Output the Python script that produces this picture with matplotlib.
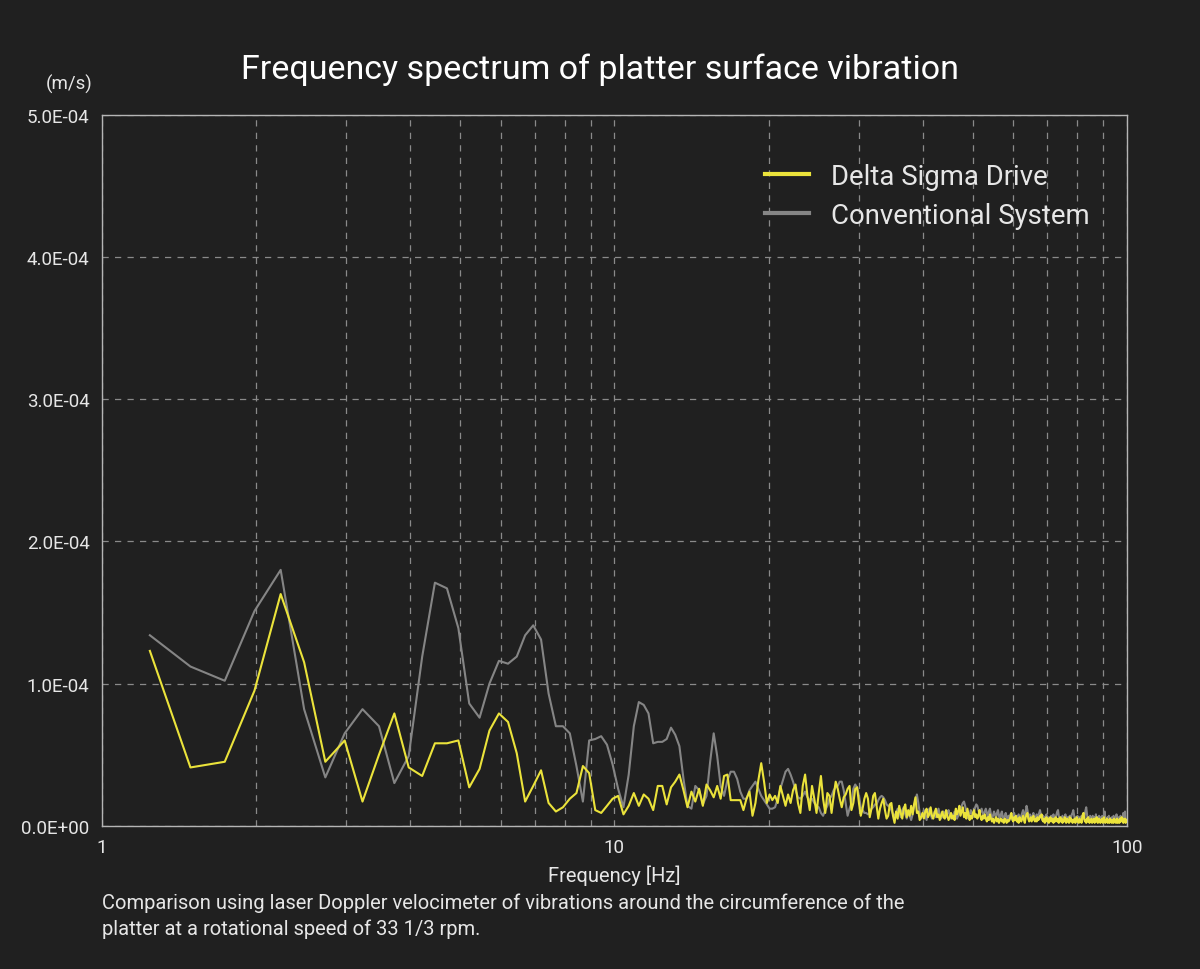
import numpy as np
import matplotlib
matplotlib.use("Agg")
import matplotlib.pyplot as plt
from matplotlib.ticker import FixedLocator, NullFormatter

# spectrum bins: frequency = bin * df, bins 5..403 (about 1.2 - 100 Hz)
df = 0.248
bins = np.arange(5, 404)

# velocity, in units of 1e-6 m/s
delta_sigma = [
    123, 41, 45, 95, 163, 115, 45, 60, 17, 50,
    79, 41, 35, 58, 58, 60, 27, 40, 67, 79,
    73, 51, 17, 28, 39, 16, 10, 13, 19, 23,
    42, 37, 11, 9, 14, 19, 21, 8, 14, 23,
    14, 22, 19, 11, 28, 28, 15, 27, 31, 36,
    25, 13, 24, 17, 26, 14, 29, 25, 20, 28,
    19, 35, 36, 18, 18, 18, 18, 11, 19, 24,
    7, 16, 32, 44, 31, 16, 22, 18, 21, 16,
    28, 21, 14, 22, 16, 25, 29, 16, 9, 28,
    36, 21, 11, 28, 19, 9, 23, 35, 19, 9,
    23, 21, 9, 21, 31, 26, 19, 13, 20, 22,
    26, 28, 11, 16, 26, 27, 16, 7, 12, 19,
    23, 19, 6, 12, 21, 23, 14, 5, 12, 16,
    19, 11, 5, 7, 15, 16, 7, 2, 10, 5,
    14, 9, 5, 12, 15, 6, 11, 7, 14, 8,
    15, 20, 9, 10, 4, 6, 9, 5, 10, 12,
    6, 8, 13, 7, 5, 9, 12, 6, 8, 4,
    7, 10, 6, 5, 11, 7, 4, 6, 9, 5,
    7, 4, 12, 8, 10, 14, 7, 10, 13, 6,
    9, 5, 12, 8, 4, 7, 5, 9, 11, 6,
    8, 5, 7, 11, 6, 4, 7, 5, 8, 5,
    3, 6, 4, 8, 5, 3, 5, 2, 4, 6,
    3, 5, 2, 4, 5, 3, 4, 2, 5, 4,
    2, 4, 3,
    4, 6, 9, 5, 3, 6, 4, 7, 3, 5,
    2, 6, 4, 3, 5, 7, 4, 2, 6, 8,
    9, 5, 3, 4, 6, 3, 5, 7, 4, 3,
    5, 3, 6, 4, 5, 7, 6, 8, 4, 3,
    5, 2, 4, 6, 3, 5, 2, 4, 6, 3,
    5, 4, 2, 5, 3, 6, 4, 3, 5, 2,
    4, 6, 3, 5, 2, 4, 3, 6, 4, 2,
    5, 3, 4, 2, 6, 3, 5, 4, 2, 4,
    3, 5, 2, 4, 6, 3, 4, 2, 5, 3,
    4, 2, 6, 8, 9, 5, 3, 4, 2, 5,
    3, 6, 4, 2, 4, 3, 5, 2, 4, 3,
    5, 2, 4, 3, 6, 3, 2, 4, 5, 3,
    2, 4, 3, 5, 2, 4, 6, 3, 2, 4,
    3, 5, 2, 4, 3, 2, 5, 3, 4, 2,
    4, 3, 2, 5, 3, 4, 2, 3, 5, 2,
    4, 3, 2, 5, 3, 4, 6, 3, 5, 2,
    4, 3, 5, 2, 3, 4,
]

conventional = [
    134, 112, 102, 151, 180, 82, 34, 65, 82, 70,
    30, 49, 119, 171, 167, 139, 86, 76, 100, 116,
    114, 119, 134, 141, 131, 93, 70, 70, 65, 42,
    17, 60, 61, 63, 57, 43, 26, 13, 36, 70,
    87, 85, 79, 58, 59, 59, 61, 69, 64, 56,
    33, 14, 12, 28, 25, 15, 21, 45, 65, 49,
    28, 21, 32, 38, 38, 33, 24, 19, 19, 25,
    28, 31, 26, 21, 18, 15, 12, 12, 13, 19,
    26, 32, 38, 40, 36, 31, 25, 20, 19, 21,
    24, 20, 18, 19, 16, 14, 13, 9, 7, 11,
    14, 19, 21, 25, 27, 28, 31, 31, 25, 16,
    7, 12, 16, 26, 29, 27, 21, 13, 11, 9,
    9, 8, 9, 12, 13, 15, 15, 18, 20, 21,
    20, 18, 15, 14, 13, 11, 8, 7, 9, 12,
    10, 6, 11, 13, 8, 5, 9, 7, 4, 8,
    13, 18, 22, 16, 9, 5, 8, 11, 7, 4,
    9, 12, 8, 5, 7, 10, 6, 9, 12, 8,
    5, 7, 10, 8, 6, 9, 11, 7, 5, 8,
    6, 10, 8, 5, 7, 9, 12, 14, 16, 17,
    14, 10, 7, 5, 8, 11, 9, 6, 10, 13,
    15, 14, 11, 8, 10, 12, 9, 7, 10, 12,
    9, 6, 10, 12, 8, 5, 7, 10, 8, 5,
    9, 11, 7, 4, 8, 10, 6, 4, 7, 9,
    6, 4, 7,
    5, 8, 6, 4, 7, 9, 6, 4, 7, 5,
    8, 6, 4, 7, 9, 11, 8, 6, 10, 14,
    11, 7, 5, 8, 6, 4, 7, 9, 6, 4,
    6, 8, 5, 7, 9, 11, 8, 5, 4, 7,
    5, 3, 6, 8, 5, 4, 6, 3, 5, 7,
    4, 6, 8, 5, 3, 6, 8, 10, 11, 7,
    5, 3, 6, 4, 7, 5, 3, 6, 8, 5,
    4, 6, 3, 5, 7, 4, 6, 8, 9, 11,
    8, 5, 3, 6, 4, 7, 5, 3, 6, 4,
    5, 7, 4, 6, 9, 5, 8, 11, 13, 9,
    5, 3, 6, 4, 7, 5, 3, 5, 7, 4,
    6, 3, 5, 8, 4, 6, 3, 5, 7, 4,
    3, 6, 4, 7, 5, 3, 8, 10, 6, 4,
    5, 3, 6, 4, 7, 5, 3, 5, 4, 6,
    3, 5, 7, 4, 6, 3, 5, 8, 4, 3,
    6, 4, 5, 3, 7, 4, 6, 3, 5, 9,
    6, 4, 10, 5, 3, 4,
]

yticks = [0, 1e-4, 2e-4, 3e-4, 4e-4, 5e-4]
ytick_labels = ["0.0E+00", "1.0E-04", "2.0E-04", "3.0E-04", "4.0E-04", "5.0E-04"]

BG = "#202020"
YELLOW = "#ebe33b"
GREY = "#858585"
TXT = "#e6e6e6"

plt.rcParams['font.family'] = ['Roboto', 'DejaVu Sans']

freq = bins * df
fig = plt.figure(figsize=(12, 9.7), dpi=100, facecolor=BG)
ax = fig.add_axes([0.085, 0.1477, 0.854, 0.7327], facecolor=BG)

ax.plot(freq, np.array(conventional) * 1e-6, color=GREY, lw=1.5, label="Conventional System", zorder=3)
ax.plot(freq, np.array(delta_sigma) * 1e-6, color=YELLOW, lw=1.5, label="Delta Sigma Drive", zorder=4)

ax.set_xscale("log")
ax.set_xlim(1, 100)
ax.set_ylim(0, 5e-4)
ax.xaxis.set_major_locator(FixedLocator([1, 10, 100]))
ax.set_xticklabels(["1", "10", "100"])
ax.xaxis.set_minor_locator(FixedLocator([2, 3, 4, 5, 6, 7, 8, 9, 20, 30, 40, 50, 60, 70, 80, 90]))
ax.xaxis.set_minor_formatter(NullFormatter())
ax.set_yticks(yticks)
ax.set_yticklabels(ytick_labels)
ax.tick_params(which="both", length=0, colors=TXT, labelsize=13.5)
ax.tick_params(axis="y", pad=9)
ax.tick_params(axis="x", pad=9)

ax.grid(True, which="both", axis="x", color="#8a8a8a", ls=(0, (5, 5)), lw=0.9)
ax.grid(True, which="major", axis="y", color="#8a8a8a", ls=(0, (5, 5)), lw=0.9)
ax.set_axisbelow(True)
for side in ax.spines:
    ax.spines[side].set_color("#b5b5b5")
    ax.spines[side].set_linewidth(1.0)

ax.set_xlabel("Frequency [Hz]", color=TXT, fontsize=14.5, labelpad=6)

h, l = ax.get_legend_handles_labels()
leg = ax.legend(h[::-1], l[::-1], loc="upper left", bbox_to_anchor=(0.623, 0.968), frameon=False,
                fontsize=19.8, handlelength=1.6, handletextpad=0.8, labelspacing=0.45)
for line in leg.get_lines():
    line.set_linewidth(3)
for t in leg.get_texts():
    t.set_color(TXT)

fig.text(0.5, 0.928, "Frequency spectrum of platter surface vibration", ha="center", va="center",
         color="white", fontsize=24.5)
fig.text(0.077, 0.913, "(m/s)", ha="right", va="center", color=TXT, fontsize=13.5)
fig.text(0.085, 0.0555, "Comparison using laser Doppler velocimeter of vibrations around the circumference of the\n"
         "platter at a rotational speed of 33 1/3 rpm.", ha="left", va="center", color=TXT,
         fontsize=14.5, linespacing=1.45)

fig.savefig("out.png", dpi=100, facecolor=BG)
